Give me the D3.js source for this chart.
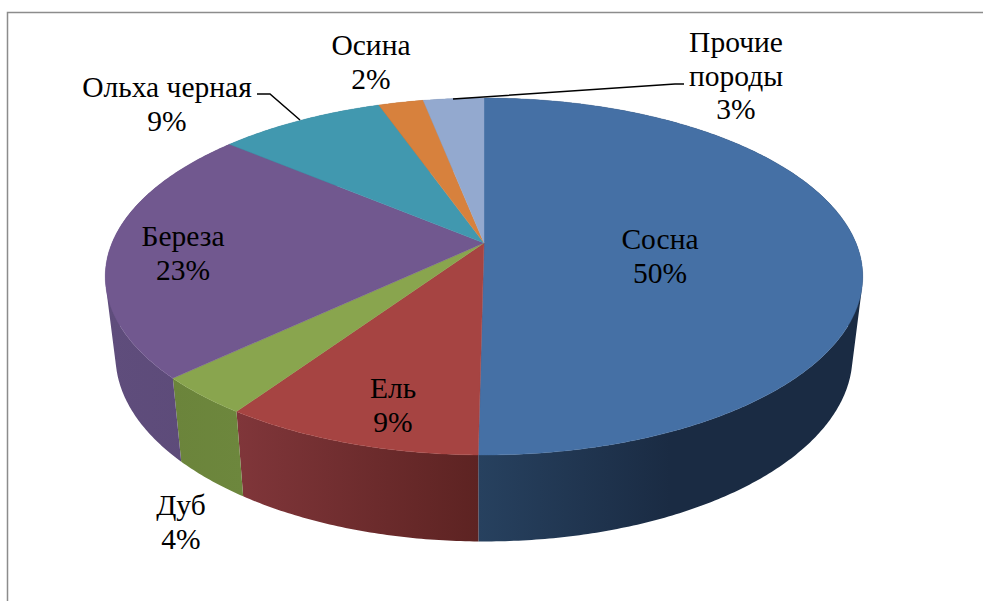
<!DOCTYPE html>
<html>
<head>
<meta charset="utf-8">
<script src="https://cdn.jsdelivr.net/npm/d3@7"></script>
<style>
    html, body { margin: 0; padding: 0; background: #fff; overflow: hidden; }
    text { font-family: "Liberation Serif", serif; font-size: 29.5px; fill: #000; text-anchor: middle; }
</style>
</head>
<body>
<svg id="chart" width="983" height="601"></svg>
<script>
const categories = ["Сосна", "Ель", "Дуб", "Береза", "Ольха черная", "Осина", "Прочие породы"];
const shares = [50.2, 9.3, 3.5, 23.1, 8.5, 2.3, 3.1];
const topColors = ["#4570a5", "#a64442", "#89a54e", "#71588f", "#4198af", "#d7813d", "#93a9cf"];
const wallLeft = ["#27415f", "#80363a", "#6b843b", "#5f4d7c", "#2f7084", "#9c5e2c", "#6b7b97"];
const wallRight = ["#1a2b43", "#5d2322", "#6d873d", "#5c4a78", "#2f7084", "#9c5e2c", "#6b7b97"];

// label layout: centre x, first baseline, line breaks of the name
const labelLayout = [
    { x: 660, y: 249, lines: ["Сосна"] },
    { x: 393, y: 398, lines: ["Ель"] },
    { x: 181, y: 515, lines: ["Дуб"] },
    { x: 183, y: 246, lines: ["Береза"] },
    { x: 167, y: 97, lines: ["Ольха черная"] },
    { x: 371, y: 55, lines: ["Осина"] },
    { x: 736, y: 52, lines: ["Прочие", "породы"] }
];
const leaders = [
    [[257, 94], [270, 94], [300, 120]],
    [[453, 99], [675, 84], [684, 84]]
];
const lineGap = 33.5;

// perspective disc: the pie apex is not the centre of the ellipse on screen
const apex = { x: 484, y: 243 };
const radius = 372, persp = -0.1877, depthA = 172.2;

function topPoint(angle) {
    let u = Math.sin(angle), v = -Math.cos(angle), w = 1 + persp * v;
    return [apex.x + radius * u / w, apex.y + depthA * v / w];
}

function bottomPoint(angle) {
    let p = topPoint(angle);
    return [apex.x + 0.973 * (p[0] - apex.x), apex.y + 78 + 1.04 * (p[1] - apex.y)];
}

const svg = d3.select("#chart");
const defs = svg.append("defs");
const pie = d3.pie().sort(null).value(d => d)(shares);

function sampleAngles(d) {
    let n = Math.max(2, Math.ceil((d.endAngle - d.startAngle) / 0.01));
    return d3.range(n + 1).map(i => d.startAngle + (d.endAngle - d.startAngle) * i / n);
}

// frame of the original chart area
svg.append("path")
    .attr("d", "M7.5,601V12.5H983")
    .attr("fill", "none")
    .attr("stroke", "#8c8c8c")
    .attr("stroke-width", 1.5);

// side walls, drawn as joined quads so the silhouette stays straight at the tangents
pie.forEach((d, i) => {
    let angles = sampleAngles(d);
    let xs = angles.map(a => topPoint(a)[0]).concat(angles.map(a => bottomPoint(a)[0]));
    let grad = defs.append("linearGradient")
        .attr("id", "wall" + i)
        .attr("gradientUnits", "userSpaceOnUse")
        .attr("x1", d3.min(xs)).attr("x2", d3.max(xs))
        .attr("y1", 0).attr("y2", 0);
    // the first slice only gets dark over its first half
    grad.append("stop").attr("offset", 0).attr("stop-color", wallLeft[i]);
    grad.append("stop").attr("offset", i == 0 ? 0.5 : 1).attr("stop-color", wallRight[i]);

    let pathData = "";
    for (let k = 0; k < angles.length - 1; k++) {
        let quad = [topPoint(angles[k]), topPoint(angles[k + 1]), bottomPoint(angles[k + 1]), bottomPoint(angles[k])];
        // same winding everywhere, or overlapping quads cancel out at the tangents
        if (d3.polygonArea(quad) < 0) quad.reverse();
        pathData += "M" + quad.join("L") + "Z";
    }
    svg.append("path")
        .attr("class", "wall")
        .attr("d", pathData)
        .attr("fill", "url(#wall" + i + ")");
});

// top face
const line = d3.line();
pie.forEach((d, i) => {
    let pts = [[apex.x, apex.y]].concat(sampleAngles(d).map(topPoint));
    svg.append("path")
        .attr("class", "slice")
        .attr("d", line(pts) + "Z")
        .attr("fill", topColors[i])
        .attr("stroke", topColors[i])
        .attr("stroke-width", 0.4);
});

// leader lines
leaders.forEach(pts => {
    svg.append("path")
        .attr("d", line(pts))
        .attr("fill", "none")
        .attr("stroke", "#000")
        .attr("stroke-width", 1.5);
});

// labels
const pct = d3.format(".0f");
categories.forEach((name, i) => {
    let place = labelLayout[i];
    let rows = place.lines.concat(pct(shares[i]) + "%");
    let label = svg.append("text").attr("class", "label");
    rows.forEach((row, r) => {
        label.append("tspan")
            .attr("x", place.x)
            .attr("y", place.y + r * lineGap)
            .text(row);
    });
});
</script>
</body>
</html>
